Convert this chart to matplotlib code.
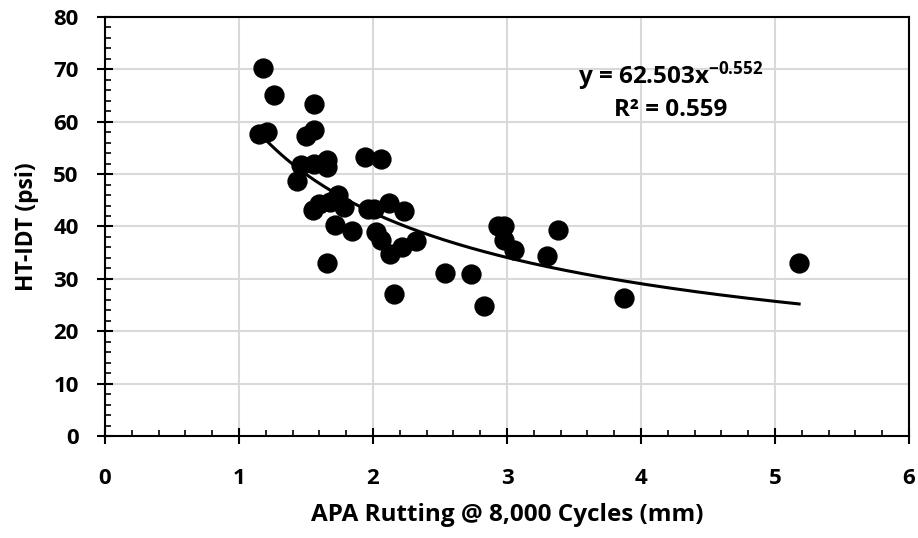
import numpy as np
import matplotlib
matplotlib.use("Agg")
import matplotlib.pyplot as plt
from matplotlib.ticker import MultipleLocator

# APA rut depth (mm) vs HT-IDT strength (psi)
apa_rut = [1.18, 1.26, 1.56, 1.15, 1.21, 1.50, 1.56, 1.46, 1.56, 1.66,
           1.66, 1.43, 1.94, 2.06, 1.55, 1.60, 1.68, 1.74, 1.78, 1.96,
           2.01, 2.12, 2.23, 1.72, 1.84, 2.02, 2.06, 2.22, 2.32, 2.13,
           1.66, 2.16, 2.54, 2.73, 2.83, 2.93, 2.98, 2.98, 3.05, 3.38,
           3.30, 3.87, 5.18]
ht_idt = [70.3, 65.1, 63.4, 57.6, 58.0, 57.3, 58.5, 51.7, 52.0, 52.7,
          51.4, 48.7, 53.2, 52.9, 43.1, 44.3, 44.7, 46.0, 43.8, 43.3,
          43.3, 44.4, 42.9, 40.3, 39.1, 38.9, 37.5, 36.1, 37.3, 34.7,
          33.0, 27.1, 31.2, 30.9, 24.9, 40.1, 40.1, 37.4, 35.5, 39.3,
          34.4, 26.4, 33.0]

coef_a = 62.503
coef_b = -0.552
r2 = 0.559

plt.rcParams["font.family"] = "Open Sans"
plt.rcParams["font.weight"] = "bold"
plt.rcParams["mathtext.fontset"] = "custom"
plt.rcParams["mathtext.rm"] = "Open Sans:bold"
plt.rcParams["mathtext.default"] = "rm"

fig = plt.figure(figsize=(9.18, 5.38), dpi=100)
ax = fig.add_axes([0.1144, 0.1896, 0.8758, 0.7788])

ax.scatter(apa_rut, ht_idt, s=185, color="black", zorder=3)

# power trendline
xs = np.linspace(min(apa_rut), max(apa_rut), 200)
ax.plot(xs, coef_a * xs ** coef_b, color="black", lw=2.2, zorder=2)

ax.text(4.22, 68.7, "y = %.3fx$^{%.3f}$" % (coef_a, coef_b), ha="center", va="center",
        fontsize=17.5, fontweight="bold")
ax.text(4.22, 62.2, "R² = %.3f" % r2, ha="center", va="center",
        fontsize=17.5, fontweight="bold")

ax.set_xlim(0, 6)
ax.set_ylim(0, 80)
ax.xaxis.set_major_locator(MultipleLocator(1))
ax.xaxis.set_minor_locator(MultipleLocator(0.2))
ax.yaxis.set_major_locator(MultipleLocator(10))
ax.yaxis.set_minor_locator(MultipleLocator(2))
ax.grid(True, which="major", color="#d9d9d9", lw=1.5, zorder=0)
ax.set_axisbelow(True)

ax.tick_params(axis="y", which="major", direction="inout", length=12, width=1.5,
               labelsize=16, pad=13)
ax.tick_params(axis="x", which="major", direction="inout", length=12, width=1.5,
               labelsize=16, pad=17)
ax.tick_params(which="minor", direction="in", length=4.5, width=1.2)
for sp in ax.spines.values():
    sp.set_linewidth(1.5)

ax.set_xlabel("APA Rutting @ 8,000 Cycles (mm)", fontsize=17.5, fontweight="bold", labelpad=10)
ax.set_ylabel("HT-IDT (psi)", fontsize=16.5, fontweight="bold", labelpad=10)

fig.savefig("out.png", dpi=100)
